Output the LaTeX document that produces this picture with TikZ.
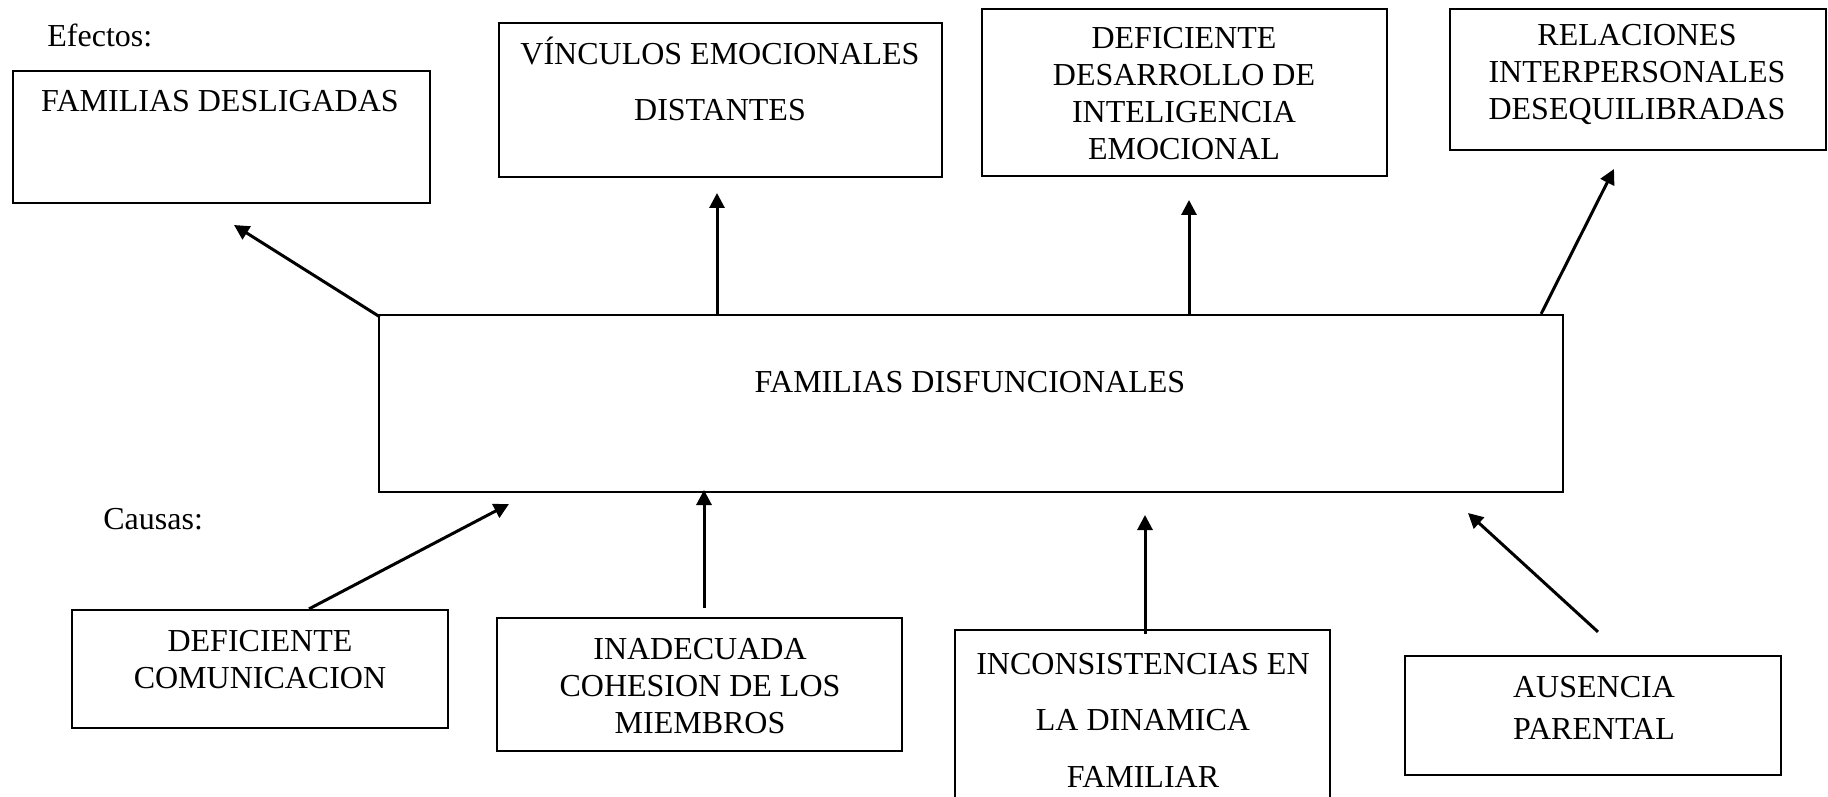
\documentclass[tikz,border=0pt]{standalone}
\usepackage{fontspec}
\setmainfont{Liberation Serif}
\usetikzlibrary{positioning,calc,fit,arrows.meta}

\begin{document}
\begin{tikzpicture}[x=0.5pt, y=-0.5pt, >={Triangle[length=7.5pt,width=7.5pt]},
    box/.style={draw, line width=1.1pt, inner sep=0pt},
    txt/.style={font=\fontsize{16}{18.5}\selectfont, align=center, anchor=base, inner sep=0pt},
    wide/.style={font=\fontsize{16}{28.2}\selectfont},
    arrow/.style={->, line width=1.5pt}]
    \useasboundingbox (0,0) rectangle (1828,797);

    % Headings
    \node[txt, anchor=base west] (efectos) at (47,47) {Efectos:};
    \node[txt, anchor=base west] (causas) at (103,529) {Causas:};

    % Effect boxes (text placed by its last baseline)
    \node[box, fit={(13,71) (430,203)}] (desl) {};
    \node[txt] (desl-t) at (220,112) {FAMILIAS DESLIGADAS};
    \node[box, fit={(499,23) (942,177)}] (vinc) {};
    \node[txt, wide] (vinc-t) at (720,121) {VÍNCULOS EMOCIONALES\\DISTANTES};
    \node[box, fit={(982,9) (1387,176)}] (desa) {};
    \node[txt] (desa-t) at (1184,160) {DEFICIENTE\\DESARROLLO DE\\INTELIGENCIA\\EMOCIONAL};
    \node[box, fit={(1450,9) (1826,150)}] (rela) {};
    \node[txt] (rela-t) at (1637,120) {RELACIONES\\INTERPERSONALES\\DESEQUILIBRADAS};

    % Central problem
    \node[box, fit={(379,315) (1563,492)}] (disf) {};
    \node[txt] (disf-t) at (970,392) {FAMILIAS DISFUNCIONALES};

    % Cause boxes
    \node[box, fit={(72,610) (448,728)}] (comu) {};
    \node[txt] (comu-t) at (260,688) {DEFICIENTE\\COMUNICACION};
    \node[box, fit={(497,618) (902,751)}] (inad) {};
    \node[txt] (inad-t) at (700,733) {INADECUADA\\COHESION DE LOS\\MIEMBROS};
    \node[box, fit={(955,630) (1330,830)}] (inco) {};
    \node[txt, wide] (inco-t) at (1143,787) {INCONSISTENCIAS EN\\LA DINAMICA\\FAMILIAR};
    \node[box, fit={(1405,656) (1781,775)}] (ause) {};
    \node[txt, font=\fontsize{16}{21}\selectfont] (ause-t) at (1594,739) {AUSENCIA\\PARENTAL};

    % Arrow tips
    \coordinate (t1) at (234,225);
    \coordinate (t2) at (717,193);
    \coordinate (t3) at (1189,200);
    \coordinate (t4) at (1614,169);
    \coordinate (t5) at (509,504);
    \coordinate (t6) at (704,490);
    \coordinate (t7) at (1145,515);
    \coordinate (t8) at (1468,513);

    % Effects
    \draw[arrow] ($(disf.north west)+(2,3)$) -- (t1);
    \draw[arrow] (t2 |- disf.north) -- (t2);
    \draw[arrow] (t3 |- disf.north) -- (t3);
    \draw[arrow] ($(disf.north east)+(-23,0)$) -- (t4);

    % Causes
    \draw[arrow] ($(comu.north)+(49,0)$) -- (t5);
    \draw[arrow] ($(t6 |- inad.north)+(0,-9)$) -- (t6);
    \draw[arrow] ($(t7 |- inco.north)+(0,5)$) -- (t7);
    \draw[arrow] ($(ause.north)+(5,-23)$) -- (t8);
\end{tikzpicture}
\end{document}
